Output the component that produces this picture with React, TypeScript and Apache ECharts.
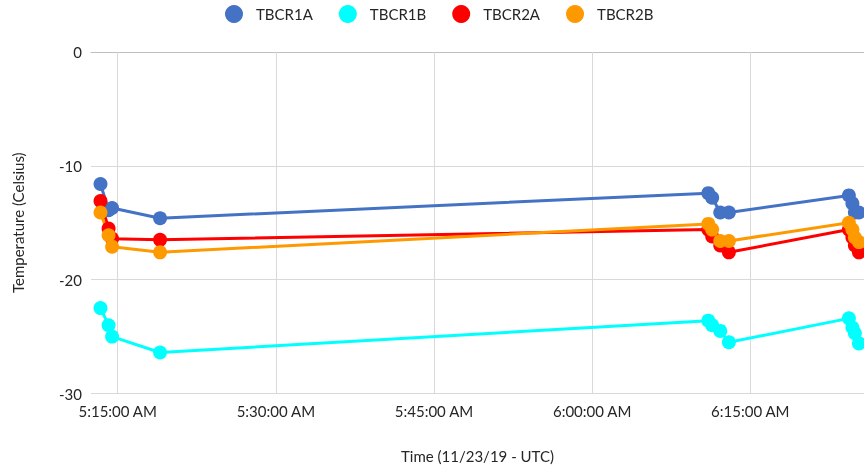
import React, { useEffect, useRef } from "react";
import * as echarts from "echarts";

const times = ["5:13:22", "5:14:08", "5:14:28", "5:19:01", "6:11:01", "6:11:23", "6:12:09", "6:12:58", "6:24:21", "6:24:41", "6:24:55", "6:25:18"];
const tbcr1a = [-11.6, -13.9, -13.7, -14.6, -12.4, -12.8, -14.1, -14.1, -12.6, -13.3, -14.1, -14.1];
const tbcr1b = [-22.5, -24.0, -25.0, -26.4, -23.6, -24.0, -24.5, -25.5, -23.4, -24.2, -24.7, -25.6];
const tbcr2a = [-13.1, -15.5, -16.4, -16.5, -15.6, -16.2, -17.0, -17.6, -15.6, -16.3, -17.0, -17.6];
const tbcr2b = [-14.1, -16.1, -17.1, -17.6, -15.1, -15.6, -16.6, -16.6, -15.0, -15.6, -16.3, -16.7];
const xTicks = ["5:15:00", "5:30:00", "5:45:00", "6:00:00", "6:15:00"];
const xRange = ["5:12:28", "6:25:47"];
const yTicks = [0, -10, -20, -30];

const seriesNames = ["TBCR1A", "TBCR1B", "TBCR2A", "TBCR2B"];
const seriesValues = [tbcr1a, tbcr1b, tbcr2a, tbcr2b];
const colors = ["#4472C4", "#00FFFF", "#FF0000", "#FF9900"];

const toSec = (s: string) => {
  const [h, m, sec] = s.split(":").map(Number);
  return h * 3600 + m * 60 + sec;
};
const pad = (n: number) => (n < 10 ? "0" + n : "" + n);
const fmt = (v: number) => {
  const h = Math.floor(v / 3600);
  const m = Math.floor((v % 3600) / 60);
  const s = Math.round(v % 60);
  const ap = h >= 12 ? "PM" : "AM";
  const hh = h % 12 === 0 ? 12 : h % 12;
  return `${hh}:${pad(m)}:${pad(s)} ${ap}`;
};

const FONT = "Lato, 'Open Sans', sans-serif";
const TEXT = "#262626";
const GRID = "#d9d9d9";

export default function App() {
  const ref = useRef<HTMLDivElement>(null);
  useEffect(() => {
    document.body.style.margin = "0";
    const chart = echarts.init(ref.current!, null, { renderer: "svg" });
    const xs = times.map(toSec);
    const series: any[] = [
      {
        type: "line",
        name: "__grid",
        data: [],
        silent: true,
        markLine: {
          silent: true,
          symbol: ["none", "none"],
          z: 1,
          label: { show: false },
          lineStyle: { color: GRID, width: 1, type: "solid" },
          data: xTicks.map((t) => ({ xAxis: toSec(t) })),
        },
      },
    ];
    seriesNames.forEach((name, i) => {
      series.push({
        type: "line",
        name,
        z: 3,
        data: xs.map((x, j) => [x, seriesValues[i][j]]),
        symbol: "circle",
        symbolSize: 14,
        showAllSymbol: true,
        clip: false,
        itemStyle: { color: colors[i] },
        lineStyle: { color: colors[i], width: 3 },
      });
    });
    chart.setOption({
      animation: false,
      textStyle: { fontFamily: FONT },
      legend: {
        data: seriesNames,
        top: 0,
        left: 220,
        icon: "circle",
        itemWidth: 34,
        itemHeight: 18,
        itemGap: 26,
        textStyle: { fontSize: 15, color: TEXT, fontFamily: FONT },
      },
      grid: { left: 91, right: 0, top: 52, bottom: 79.5, containLabel: false },
      xAxis: {
        type: "value",
        min: toSec(xRange[0]),
        max: toSec(xRange[1]),
        name: "Time (11/23/19 - UTC)",
        nameLocation: "middle",
        nameGap: 55,
        nameTextStyle: { fontSize: 15, color: TEXT, fontFamily: FONT },
        axisLine: { show: true, lineStyle: { color: "#bfbfbf", width: 1 } },
        axisTick: { show: false },
        splitLine: { show: false },
        axisLabel: {
          customValues: xTicks.map(toSec),
          formatter: (v: number) => fmt(v),
          fontSize: 15,
          color: TEXT,
          margin: 10,
          fontFamily: FONT,
        },
      },
      yAxis: {
        type: "value",
        min: yTicks[yTicks.length - 1],
        max: yTicks[0],
        interval: 10,
        name: "Temperature (Celsius)",
        nameLocation: "middle",
        nameGap: 66,
        nameTextStyle: { fontSize: 15, color: TEXT, fontFamily: FONT },
        axisLine: { show: false },
        axisTick: { show: false },
        splitLine: { show: true, lineStyle: { color: GRID, width: 1 } },
        axisLabel: { fontSize: 15, color: TEXT, margin: 9, fontFamily: FONT },
      },
      series,
    });
    return () => chart.dispose();
  }, []);
  return (
    <div
      ref={ref}
      style={{ position: "fixed", left: 0, top: 0, width: 864, height: 473 }}
    />
  );
}
